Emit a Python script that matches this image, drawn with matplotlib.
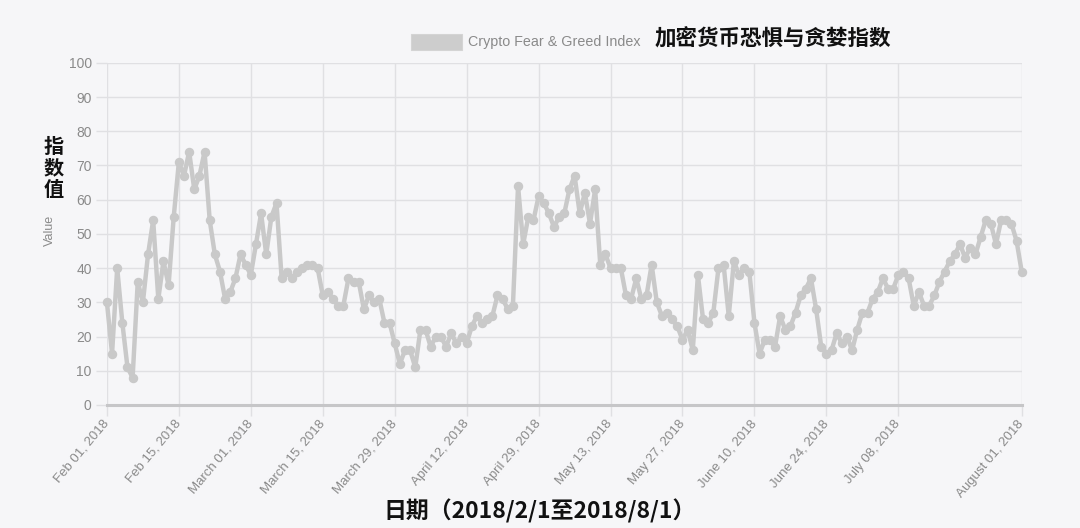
import matplotlib
matplotlib.use("Agg")
import matplotlib.pyplot as plt
import pandas as pd

# daily index values, 2018-02-01 .. 2018-08-01 (three April days missing in source)
missing_days = ["2018-04-14", "2018-04-15", "2018-04-16"]
values = [
    30, 15, 40, 24, 11, 8, 36, 30, 44, 54,
    31, 42, 35, 55, 71, 67, 74, 63, 67, 74,
    54, 44, 39, 31, 33, 37, 44, 41, 38, 47,
    56, 44, 55, 59, 37, 39, 37, 39, 40, 41,
    41, 40, 32, 33, 31, 29, 29, 37, 36, 36,
    28, 32, 30, 31, 24, 24, 18, 12, 16, 16,
    11, 22, 22, 17, 20, 20, 17, 21, 18, 20,
    18, 23, 26, 24, 25, 26, 32, 31, 28, 29,
    64, 47, 55, 54, 61, 59, 56, 52, 55, 56,
    63, 67, 56, 62, 53, 63, 41, 44, 40, 40,
    40, 32, 31, 37, 31, 32, 41, 30, 26, 27,
    25, 23, 19, 22, 16, 38, 25, 24, 27, 40,
    41, 26, 42, 38, 40, 39, 24, 15, 19, 19,
    17, 26, 22, 23, 27, 32, 34, 37, 28, 17,
    15, 16, 21, 18, 20, 16, 22, 27, 27, 31,
    33, 37, 34, 34, 38, 39, 37, 29, 33, 29,
    29, 32, 36, 39, 42, 44, 47, 43, 46, 44,
    49, 54, 53, 47, 54, 54, 53, 48, 39,
]
tick_dates = ["2018-02-01", "2018-02-15", "2018-03-01", "2018-03-15", "2018-03-29",
              "2018-04-12", "2018-04-29", "2018-05-13", "2018-05-27", "2018-06-10",
              "2018-06-24", "2018-07-08", "2018-08-01"]
tick_labels = ["Feb 01, 2018", "Feb 15, 2018", "March 01, 2018", "March 15, 2018",
               "March 29, 2018", "April 12, 2018", "April 29, 2018", "May 13, 2018",
               "May 27, 2018", "June 10, 2018", "June 24, 2018", "July 08, 2018",
               "August 01, 2018"]

CJK = ["Noto Sans CJK SC", "DejaVu Sans"]
BG = "#f6f6f8"
LINE = "#c9c9c9"
GRID = "#e0e0e3"
TXT = "#8a8a8a"


def main():
    dates = pd.date_range("2018-02-01", "2018-08-01", freq="D")
    dates = dates.drop(pd.to_datetime(missing_days))
    x = list(range(len(dates)))
    tick_pos = [dates.get_loc(pd.Timestamp(d)) for d in tick_dates]

    plt.rcParams["font.family"] = ["Liberation Sans", "DejaVu Sans"]
    fig = plt.figure(figsize=(10.8, 5.28), dpi=100, facecolor=BG)
    ax = fig.add_axes([0.099, 0.233, 0.847, 0.648], facecolor=BG)

    ax.plot(x, values, color=LINE, lw=3.2, marker="o", ms=5.8,
            solid_joinstyle="round", zorder=3, clip_on=False)

    ax.set_xlim(0, len(x) - 1)
    ax.set_ylim(0, 100)
    ax.set_yticks(range(0, 101, 10))
    ax.set_xticks(tick_pos)
    ax.set_xticklabels(tick_labels, rotation=50, ha="right", va="center",
                       rotation_mode="anchor", color=TXT, fontsize=9.5)
    ax.tick_params(axis="y", colors=GRID, labelcolor=TXT, labelsize=10,
                   length=8, width=1, pad=3)
    ax.tick_params(axis="x", colors=GRID, labelcolor=TXT, length=8, width=1, pad=4)
    ax.grid(True, color=GRID, lw=1)
    ax.set_axisbelow(True)
    for s in ax.spines.values():
        s.set_visible(False)
    ax.axhline(0, color="#c6c6c8", lw=2.2, zorder=2, clip_on=False)

    # legend
    fig.patches.append(plt.Rectangle((411 / 1080, 1 - 50 / 528), 51 / 1080, 16 / 528,
                                     transform=fig.transFigure, facecolor="#cdcdcd",
                                     edgecolor="#d4d4d4", lw=0.8))
    fig.text(468 / 1080, 1 - 42 / 528, "Crypto Fear & Greed Index", color=TXT,
             fontsize=10.3, va="center", ha="left")
    fig.text(655 / 1080, 1 - 39 / 528, "加密货币恐惧与贪婪指数", family=CJK,
             fontsize=15.5, fontweight="bold", color="#111111", va="center", ha="left")

    # axis titles
    fig.text(50 / 1080, 1 - 230 / 528, "Value", rotation=90, color=TXT,
             fontsize=9, va="center", ha="center")
    fig.text(54 / 1080, 1 - 168 / 528, "指\n数\n值", family=CJK, fontsize=14.5,
             fontweight="bold", color="#111111", va="center", ha="center",
             linespacing=1.05)
    fig.text(540 / 1080, 1 - 511 / 528, "日期（2018/2/1至2018/8/1）", family=CJK,
             fontsize=16.5, fontweight="bold", color="#111111", va="center", ha="center")

    fig.savefig("out.png", dpi=100, facecolor=BG)


if __name__ == "__main__":
    main()
